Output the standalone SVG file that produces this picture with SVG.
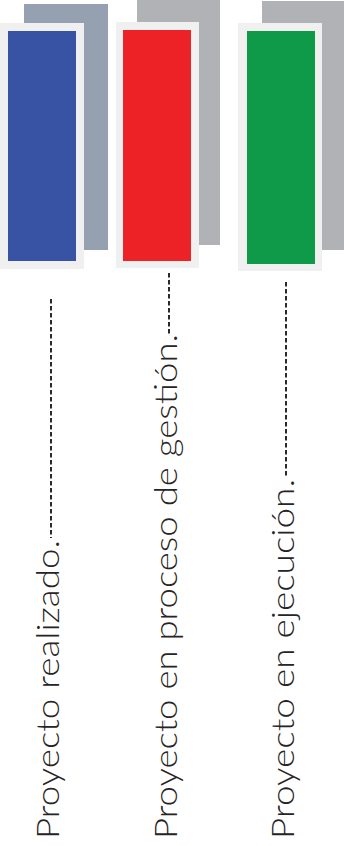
<svg xmlns="http://www.w3.org/2000/svg" width="344" height="846" viewBox="0 0 344 846">
<style>
.frame{fill:#f0f0f0}
.back{fill:#b1b2b6}
.lbl{font-family:Lato,"Liberation Sans",Arial,sans-serif;font-weight:300;font-size:31px;fill:#262424}
.lead{stroke:#2a2a2a;stroke-width:2;stroke-dasharray:4.5 2.5;fill:none}
</style>
<rect width="344" height="846" fill="#ffffff"/>
<g id="node-realizado">
<rect x="24" y="4" width="84" height="246" fill="#95a1b1"/>
<rect class="frame" x="0" y="23" width="84" height="246"/>
<rect x="8" y="31" width="68" height="230" fill="#3953a4"/>
<text class="lbl" transform="translate(58.5,839) rotate(-90)" textLength="299" lengthAdjust="spacingAndGlyphs">Proyecto realizado.</text>
</g>
<g id="node-gestion">
<rect class="back" x="137" y="0" width="83" height="245"/>
<rect class="frame" x="116" y="22" width="83" height="246"/>
<rect x="123" y="30" width="68" height="231" fill="#ed2226"/>
<text class="lbl" transform="translate(176.5,839) rotate(-90)" textLength="505" lengthAdjust="spacingAndGlyphs">Proyecto en proceso de gestión.</text>
</g>
<g id="node-ejecucion">
<rect class="back" x="262" y="1" width="82" height="249"/>
<rect class="frame" x="238" y="23" width="84" height="248"/>
<rect x="247" y="31" width="68" height="233" fill="#0f9a4a"/>
<text class="lbl" transform="translate(294,839) rotate(-90)" textLength="360" lengthAdjust="spacingAndGlyphs">Proyecto en ejecución.</text>
</g>
<g id="connectors">
<line class="lead" x1="51" y1="299" x2="51" y2="538"/>
<line class="lead" x1="169" y1="273" x2="169" y2="335"/>
<line class="lead" x1="286" y1="282" x2="286" y2="478"/>
</g>
</svg>
